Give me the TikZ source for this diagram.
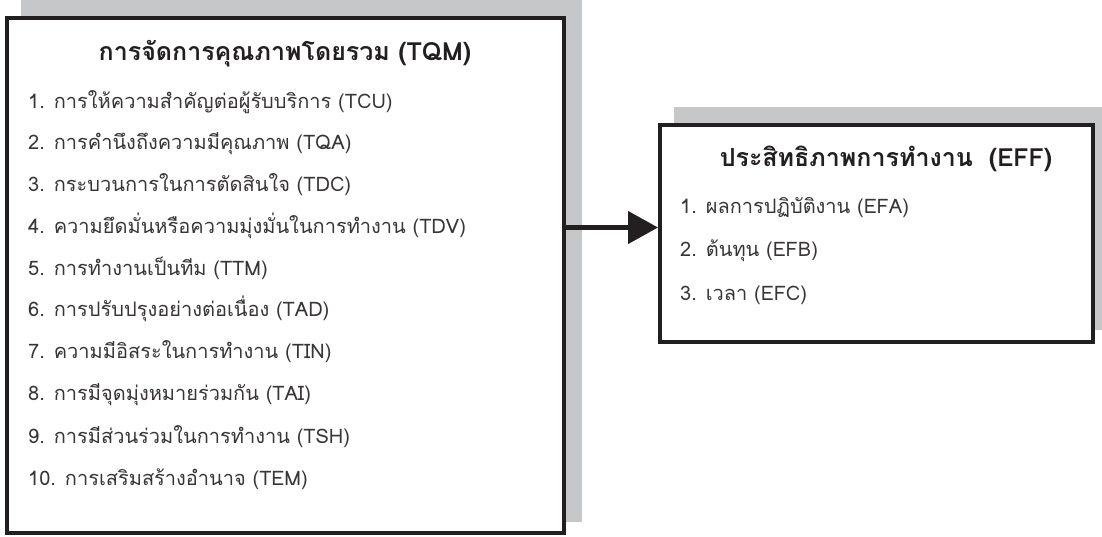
\documentclass[tikz,border=0pt]{standalone}
\usepackage{fontspec}
\setmainfont[Script=Thai]{Loma}
\usetikzlibrary{arrows.meta,calc}
\definecolor{shade}{HTML}{C6C7C9}
\definecolor{ink}{HTML}{231F20}
\tikzset{
  shadowbox/.style={fill=shade,draw=none},
  mainbox/.style={draw=ink,line width=4pt,fill=white,rectangle,inner sep=0pt},
  titletext/.style={anchor=base,inner sep=0pt,font=\fontsize{25}{30}\selectfont\bfseries,text=ink},
  itemtext/.style={anchor=base west,inner sep=0pt,font=\fontsize{20}{24}\selectfont,text=ink!90},
  link/.style={draw=ink,line width=4.5pt,-{Triangle[length=30pt,width=32pt]}}
}
\begin{document}
\begin{tikzpicture}[x=1pt,y=-1pt]
\useasboundingbox (0,0) rectangle (1102,536);
% shadows
\fill[shadowbox] (21,0) rectangle (582,522);
\fill[shadowbox] (674,107) rectangle (1102,330);
% boxes
\node[mainbox,minimum width=557pt,minimum height=515pt] (L) at (285.5,275.5) {};
\node[mainbox,minimum width=433pt,minimum height=217pt] (R) at (876.5,233.5) {};
% left texts
\node[titletext] (lt) at (285,60) {การจัดการคุณภาพโดยรวม (TQM)};
\node[itemtext] (l1) at (28,108) {1. การให้ความสำคัญต่อผู้รับบริการ (TCU)};
\node[itemtext] (l2) at (28,149) {2. การคำนึงถึงความมีคุณภาพ (TQA)};
\node[itemtext] (l3) at (28,191) {3. กระบวนการในการตัดสินใจ (TDC)};
\node[itemtext] (l4) at (28,233) {4. ความยึดมั่นหรือความมุ่งมั่นในการทำงาน (TDV)};
\node[itemtext] (l5) at (28,275) {5. การทำงานเป็นทีม (TTM)};
\node[itemtext] (l6) at (28,316) {6. การปรับปรุงอย่างต่อเนื่อง (TAD)};
\node[itemtext] (l7) at (28,358) {7. ความมีอิสระในการทำงาน (TIN)};
\node[itemtext] (l8) at (28,400) {8. การมีจุดมุ่งหมายร่วมกัน (TAI)};
\node[itemtext] (l9) at (28,443) {9. การมีส่วนร่วมในการทำงาน (TSH)};
\node[itemtext] (l10) at (28,485) {10. การเสริมสร้างอำนาจ (TEM)};
% right texts
\node[titletext] (rt) at (886,166) {ประสิทธิภาพการทำงาน\hspace{16pt}(EFF)};
\node[itemtext] (r1) at (680,213) {1. ผลการปฏิบัติงาน (EFA)};
\node[itemtext] (r2) at (680,256) {2. ต้นทุน (EFB)};
\node[itemtext] (r3) at (680,300) {3. เวลา (EFC)};
% connector
\coordinate (a) at ($(R.west)+(0,-6)$);
\draw[link] (L.east |- a) -- (a);
\end{tikzpicture}
\end{document}
